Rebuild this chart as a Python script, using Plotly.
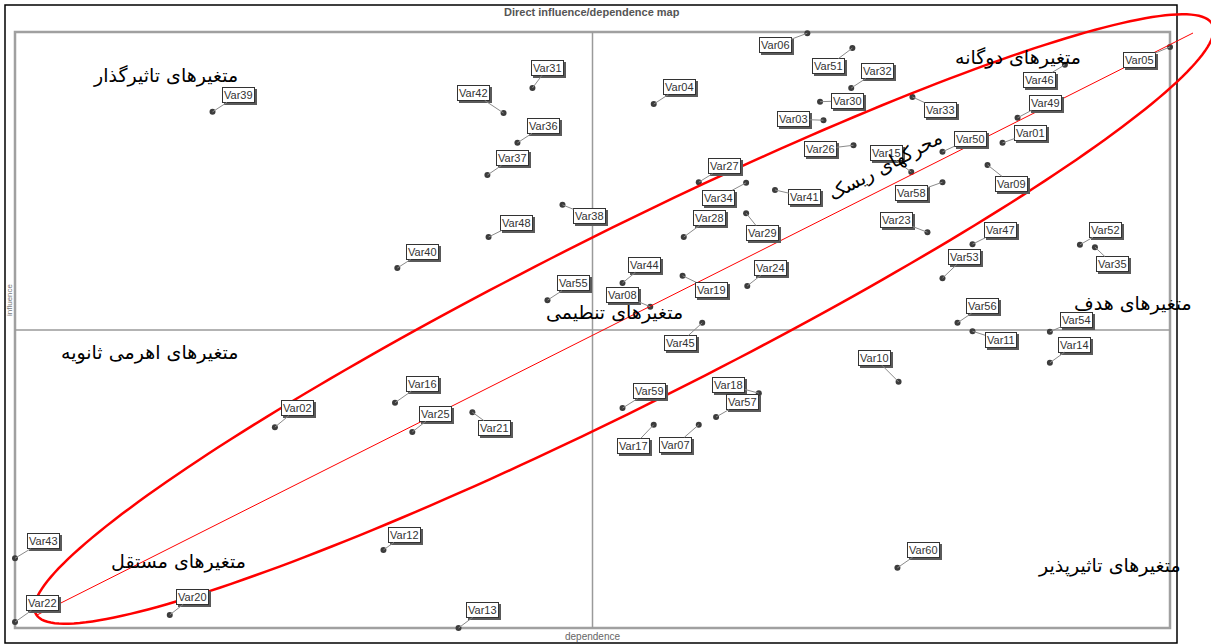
import numpy as np
import plotly.graph_objects as go

# ---------------- data (dependence = x, influence = y, scale 0-100) ----------------
names = ["Var39", "Var31", "Var42", "Var36", "Var37", "Var38", "Var06", "Var04", "Var27", "Var34",
         "Var41", "Var28", "Var29", "Var44", "Var08", "Var55", "Var48", "Var40", "Var19", "Var24",
         "Var45", "Var16", "Var25", "Var21", "Var02", "Var59", "Var18", "Var57", "Var17", "Var07",
         "Var12", "Var13", "Var20", "Var43", "Var22", "Var60", "Var10", "Var56", "Var11", "Var54",
         "Var14", "Var47", "Var53", "Var52", "Var35", "Var23", "Var58", "Var15", "Var50", "Var01",
         "Var09", "Var33", "Var49", "Var46", "Var05", "Var51", "Var32", "Var30", "Var03", "Var26"]
dependence = [17.1, 44.8, 42.3, 43.5, 40.9, 47.4, 68.6, 55.3, 59.2, 63.3,
              65.8, 57.9, 63.3, 52.6, 55.0, 46.1, 41.0, 33.1, 57.8, 63.4,
              59.5, 32.9, 34.4, 39.6, 22.5, 52.6, 64.4, 60.7, 55.3, 59.2,
              31.9, 38.4, 13.4, 0.0, 0.0, 76.4, 76.5, 81.6, 82.9, 89.6,
              89.6, 82.9, 80.3, 92.2, 93.5, 79.0, 80.3, 77.6, 80.3, 85.5,
              84.2, 77.7, 86.8, 90.9, 100.0, 72.5, 72.4, 69.7, 70.0, 72.6]
influence = [86.6, 90.6, 86.4, 81.4, 76.0, 71.0, 99.8, 87.9, 74.8, 74.7,
             73.5, 65.6, 69.6, 57.9, 53.9, 55.0, 65.6, 60.4, 59.1, 57.4,
             51.2, 37.8, 32.9, 36.2, 33.7, 36.9, 39.4, 35.4, 34.1, 34.1,
             13.1, 0.0, 2.2, 11.7, 1.0, 10.1, 41.3, 51.2, 49.8, 49.7,
             44.5, 64.4, 58.7, 64.3, 63.9, 66.4, 74.8, 76.5, 79.9, 81.4,
             77.7, 89.1, 85.6, 94.5, 97.5, 97.3, 90.6, 88.3, 85.2, 81.0]

# label placement (pixel offsets of label box from its point) -- layout only
label_dx = [26, 15, -30, 26, 25, 27, -32, 26, 26, -28,
            30, 26, 16, 22, -28, 26, 28, 25, 29, 23,
            -22, 27, 23, 22, 23, 27, -30, 26, -20, -23,
            21, 24, 23, 28, 27, 26, -24, 25, 28, 27,
            25, 28, 22, 26, 18, -31, -31, -25, 28, 28,
            24, 28, 28, -25, -31, -24, 26, 27, -30, -33]
label_dy = [-17, -20, -20, -17, -17, 11, 12, -17, -16, 15,
            7, -19, 20, -18, -12, -17, -14, -16, 14, -18,
            20, -19, -18, 16, -19, -17, -8, -15, 21, 20,
            -15, -18, -18, -17, -19, -18, -24, -17, 9, -12,
            -18, -14, -21, -15, 17, -12, 11, -19, -13, -10,
            19, 13, -15, 15, 13, 18, -17, -1, -1, 4]

quadrant_texts = ["متغیرهای تاثیرگذار", "متغیرهای دوگانه", "متغیرهای تنطیمی", "متغیرهای هدف",
                  "متغیرهای اهرمی ثانویه", "متغیرهای مستقل", "متغیرهای تاثیرپذیر"]
axis_text = "محرکهای ریسک"

# ---------------- layout helpers ----------------
W, H = 1211, 644
def PX(X):
    return X / W
def PY(Y):
    return 1 - Y / H

fig = go.Figure()

fig.add_trace(go.Scatter(
    x=dependence, y=influence, mode="markers", text=names, hoverinfo="text",
    marker=dict(size=6, color="#3c3c3c", symbol="circle"), showlegend=False))

LABEL_FONT = "Arial, Liberation Sans"
annotations = []
for n, xv, yv, dx, dy in zip(names, dependence, influence, label_dx, label_dy):
    # drop shadow of the label box
    annotations.append(dict(x=xv, y=yv, xref="x", yref="y", text=n, showarrow=False,
                            xshift=dx + 2, yshift=-(dy + 2), xanchor="center", yanchor="middle",
                            font=dict(family=LABEL_FONT, size=11, color="#5a5a5a"),
                            bgcolor="#5a5a5a", bordercolor="#5a5a5a", borderwidth=1, borderpad=1))
    annotations.append(dict(x=xv, y=yv, xref="x", yref="y", text=n, showarrow=True,
                            ax=dx, ay=dy, arrowhead=0, arrowwidth=1, arrowcolor="#8a8a8a",
                            standoff=0, startstandoff=0,
                            font=dict(family=LABEL_FONT, size=11, color="#333"),
                            bgcolor="white", bordercolor="#333", borderwidth=1, borderpad=1))

# quadrant texts
qpos = [(165, 75), (1018, 57), (615, 312), (1133, 303), (150, 352), (178, 561), (1109, 565)]
for t, (X, Y) in zip(quadrant_texts, qpos):
    annotations.append(dict(x=PX(X), y=PY(Y), xref="paper", yref="paper", text=t, showarrow=False,
                            xanchor="center", yanchor="middle",
                            font=dict(family="DejaVu Sans", size=19, color="black")))
annotations.append(dict(x=PX(885), y=PY(165), xref="paper", yref="paper", text=axis_text,
                        showarrow=False, textangle=-28, xanchor="center", yanchor="middle",
                        font=dict(family="DejaVu Sans", size=19, color="black")))

# title and axis names
annotations.append(dict(x=PX(592), y=PY(12), xref="paper", yref="paper", xanchor="center", yanchor="middle",
                        text="<b>Direct influence/dependence map</b>", showarrow=False,
                        font=dict(family=LABEL_FONT, size=11, color="#555")))
annotations.append(dict(x=PX(592), y=PY(636), xref="paper", yref="paper", xanchor="center", yanchor="middle",
                        text="dependence", showarrow=False,
                        font=dict(family=LABEL_FONT, size=10, color="#666")))
annotations.append(dict(x=PX(9), y=PY(300), xref="paper", yref="paper", xanchor="center", yanchor="middle",
                        text="influence", showarrow=False, textangle=-90,
                        font=dict(family=LABEL_FONT, size=8, color="#777")))

shapes = []
# outer black frame
shapes.append(dict(type="rect", xref="paper", yref="paper", x0=PX(5), x1=PX(1177), y0=PY(643), y1=PY(5),
                   line=dict(color="black", width=1.5), layer="below"))
# inner gray plot frame
shapes.append(dict(type="rect", xref="x", yref="y", x0=0, x1=100, y0=0, y1=100,
                   line=dict(color="#a0a0a0", width=2.5), layer="below"))
# quadrant axes
shapes.append(dict(type="line", xref="x", yref="y", x0=50, x1=50, y0=0, y1=100,
                   line=dict(color="#9a9a9a", width=1.5), layer="below"))
shapes.append(dict(type="line", xref="x", yref="y", x0=0, x1=100, y0=50, y1=50,
                   line=dict(color="#9a9a9a", width=1.5), layer="below"))

# red ellipse (pixel geometry, converted to paper coords)
cx, cy, a, b = 624, 319, 658, 87
th = np.deg2rad(26.6)
ux, uy = np.cos(th), -np.sin(th)
nx, ny = -np.sin(th), -np.cos(th)
tt = np.linspace(0, 2 * np.pi, 240)
EX = cx + a * np.cos(tt) * ux + b * np.sin(tt) * nx
EY = cy + a * np.cos(tt) * uy + b * np.sin(tt) * ny
path = "M " + " L ".join(f"{PX(x):.5f},{PY(y):.5f}" for x, y in zip(EX, EY)) + " Z"
shapes.append(dict(type="path", xref="paper", yref="paper", path=path,
                   line=dict(color="#ff0000", width=2.5), layer="above"))
shapes.append(dict(type="line", xref="paper", yref="paper", x0=PX(37), y0=PY(615), x1=PX(1193), y1=PY(33),
                   line=dict(color="#ff0000", width=1), layer="above"))

fig.update_layout(
    width=W, height=H, margin=dict(l=0, r=0, t=0, b=0),
    paper_bgcolor="white", plot_bgcolor="white",
    xaxis=dict(range=[-15 / 11.55, (W - 15) / 11.55], visible=False, fixedrange=True),
    yaxis=dict(range=[-16 / 5.96, 628 / 5.96], visible=False, fixedrange=True),
    annotations=annotations, shapes=shapes, showlegend=False,
)

fig.write_html("out.html")
